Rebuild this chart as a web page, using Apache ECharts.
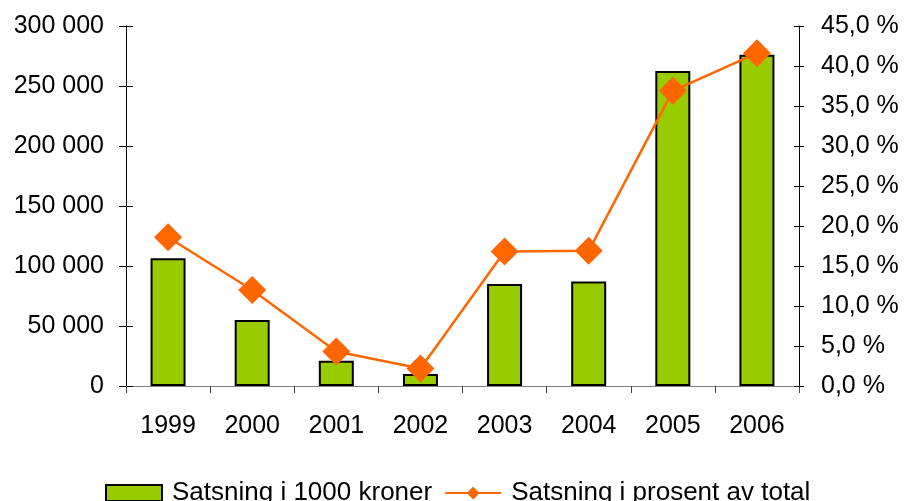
<!DOCTYPE html>
<html>
<head>
<meta charset="utf-8">
<script src="https://cdn.jsdelivr.net/npm/echarts@6/dist/echarts.min.js"></script>
<style>
  html, body { margin: 0; padding: 0; background: #fff; }
  #chart { width: 904px; height: 501px; }
</style>
</head>
<body>
<div id="chart"></div>
<script>
const years = ['1999', '2000', '2001', '2002', '2003', '2004', '2005', '2006']
const amounts = [106500, 55000, 21000, 10000, 85000, 87000, 262500, 276000]
const percents = [18.6, 12.0, 4.3, 2.2, 16.8, 16.9, 36.9, 41.6]

const font = '"Liberation Sans", Arial, sans-serif'
const labelColor = '#000'

const formatThousands = value => String(value).replace(/\B(?=(\d{3})+(?!\d))/g, ' ')
const formatPercent = value => value.toFixed(1).replace('.', ',') + ' %'

const chart = echarts.init(document.getElementById('chart'))

// extra axes with inside ticks so the y-ticks cross the axis line
const tickOnly = (position, max, interval, length) => ({
    type: 'value',
    position,
    min: 0,
    max,
    interval,
    axisLine: { show: false },
    axisTick: { show: true, inside: true, length, lineStyle: { color: '#000' } },
    axisLabel: { show: false },
    splitLine: { show: false },
})

chart.setOption({
    animation: false,
    grid: { left: 126, right: 105, top: 26, bottom: 115 },
    legend: {
        bottom: -10,
        left: 100,
        itemWidth: 56,
        itemHeight: 16,
        itemGap: 12,
        textStyle: { fontFamily: font, fontSize: 26, color: labelColor, padding: [0, 0, 0, 5] },
        data: [
            { name: 'Satsning i 1000 kroner', icon: 'rect' },
            'Satsning i prosent av total',
        ],
    },
    xAxis: {
        type: 'category',
        data: years,
        axisLine: { lineStyle: { color: '#808080', width: 1 } },
        axisTick: { show: true, length: 7, lineStyle: { color: '#404040' } },
        axisLabel: { fontFamily: font, fontSize: 25, color: labelColor, margin: 28 },
    },
    yAxis: [
        {
            type: 'value',
            position: 'left',
            min: 0,
            max: 300000,
            interval: 50000,
            axisLine: { show: true, lineStyle: { color: '#000' } },
            axisTick: { show: true, length: 7, lineStyle: { color: '#000' } },
            axisLabel: { fontFamily: font, fontSize: 25, color: labelColor, margin: 22, formatter: formatThousands },
            splitLine: { show: false },
        },
        {
            type: 'value',
            position: 'right',
            min: 0,
            max: 45,
            interval: 5,
            axisLine: { show: true, lineStyle: { color: '#000' } },
            axisTick: { show: true, length: 5, lineStyle: { color: '#000' } },
            axisLabel: { fontFamily: font, fontSize: 25, color: labelColor, margin: 22, formatter: formatPercent },
            splitLine: { show: false },
        },
        tickOnly('left', 300000, 50000, 7),
        tickOnly('right', 45, 5, 5),
    ],
    series: [
        {
            name: 'Satsning i 1000 kroner',
            type: 'bar',
            yAxisIndex: 0,
            barWidth: 35,
            data: amounts,
            itemStyle: { color: '#99cc00', borderColor: '#000', borderWidth: 2 },
        },
        {
            name: 'Satsning i prosent av total',
            type: 'line',
            yAxisIndex: 1,
            data: percents,
            symbol: 'diamond',
            symbolSize: 28,
            lineStyle: { color: '#ff6600', width: 2.5 },
            itemStyle: { color: '#ff6600' },
        },
    ],
})
</script>
</body>
</html>
